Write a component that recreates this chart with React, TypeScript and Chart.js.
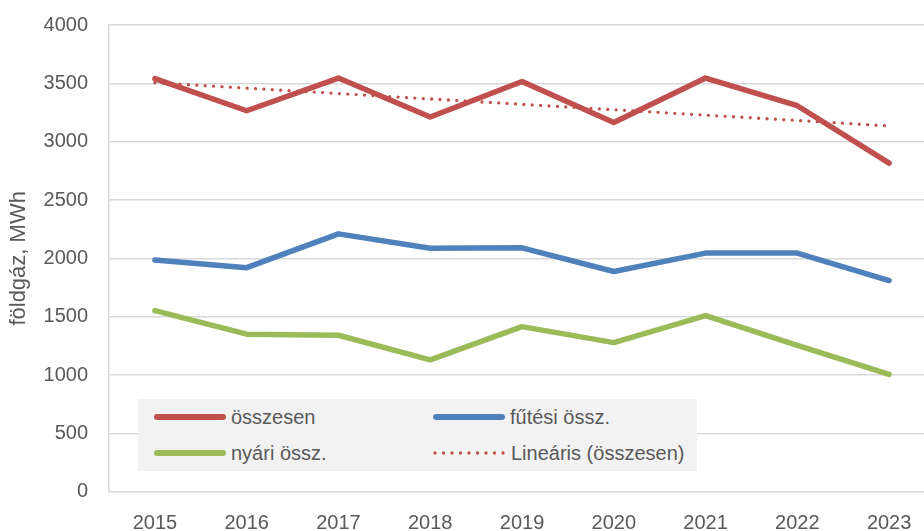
import React, { useEffect, useRef } from "react";
import { Chart, registerables } from "chart.js";

Chart.register(...registerables);

const years = [2015, 2016, 2017, 2018, 2019, 2020, 2021, 2022, 2023];
const osszesen = [3540, 3265, 3545, 3211, 3516, 3165, 3545, 3308, 2816];
const futesi = [1985, 1920, 2210, 2087, 2090, 1887, 2045, 2045, 1810];
const nyari = [1552, 1350, 1341, 1130, 1415, 1278, 1510, 1255, 1005];
const trendYears = [2015, 2023];
const trendValues = [3505, 3135];
const yTickValues = [0, 500, 1000, 1500, 2000, 2500, 3000, 3500, 4000];
const seriesLabels = ["összesen", "fűtési össz.", "nyári össz.", "Lineáris (összesen)"];
const yAxisTitle = "földgáz, MWh";

const RED = "#C0504D";
const BLUE = "#4F81BD";
const GREEN = "#9BBB59";
const TEXT = "#595959";
const GRID = "#D9D9D9";
const FONT = "'Liberation Sans', Arial, sans-serif";

const toPoints = (vals: number[]) => years.map((x, i) => ({ x, y: vals[i] }));

export default function App() {
  const ref = useRef<HTMLCanvasElement>(null);

  useEffect(() => {
    const chart = new Chart(ref.current as HTMLCanvasElement, {
      type: "line",
      data: {
        datasets: [
          {
            label: seriesLabels[3],
            data: trendYears.map((x, i) => ({ x, y: trendValues[i] })),
            borderColor: RED,
            borderWidth: 3.3,
            borderDash: [0, 8.4],
            borderCapStyle: "round",
            pointRadius: 0,
            order: 0,
          },
          {
            label: seriesLabels[0],
            data: toPoints(osszesen),
            borderColor: RED,
            borderWidth: 5.5,
            borderCapStyle: "round",
            borderJoinStyle: "round",
            pointRadius: 0,
            order: 1,
          },
          {
            label: seriesLabels[1],
            data: toPoints(futesi),
            borderColor: BLUE,
            borderWidth: 5.5,
            borderCapStyle: "round",
            borderJoinStyle: "round",
            pointRadius: 0,
            order: 1,
          },
          {
            label: seriesLabels[2],
            data: toPoints(nyari),
            borderColor: GREEN,
            borderWidth: 5.5,
            borderCapStyle: "round",
            borderJoinStyle: "round",
            pointRadius: 0,
            order: 1,
          },
        ],
      },
      options: {
        animation: false,
        responsive: false,
        devicePixelRatio: 1,
        layout: { padding: { top: 25, left: 0, right: 0, bottom: 0 } },
        plugins: { legend: { display: false }, tooltip: { enabled: false } },
        scales: {
          x: {
            type: "linear",
            min: 2014.5,
            max: 2023.38,
            grid: { display: false },
            border: { display: false },
            afterBuildTicks: (s: any) => {
              s.ticks = years.map((v) => ({ value: v }));
            },
            afterFit: (s: any) => {
              s.height = 39.3;
            },
            ticks: {
              autoSkip: false,
              maxRotation: 0,
              padding: 12,
              color: TEXT,
              font: { family: FONT, size: 20 },
              callback: (v: any) => String(v),
            },
          },
          y: {
            min: 0,
            max: 4000,
            afterBuildTicks: (s: any) => {
              s.ticks = yTickValues.map((v) => ({ value: v }));
            },
            afterFit: (s: any) => {
              s.width = 109;
            },
            grid: {
              color: GRID,
              lineWidth: 1.5,
              drawTicks: true,
              tickLength: 21,
              tickColor: "rgba(0,0,0,0)",
            },
            border: { display: true, color: GRID, width: 1.5 },
            ticks: {
              padding: 0,
              color: TEXT,
              font: { family: FONT, size: 20 },
              callback: (v: any) => String(v),
            },
            title: {
              display: true,
              text: yAxisTitle,
              color: TEXT,
              font: { family: FONT, size: 22 },
              padding: { top: 6, bottom: 0 },
            },
          },
        },
      },
    } as any);
    return () => chart.destroy();
  }, []);

  const textStyle: React.CSSProperties = {
    position: "absolute",
    fontFamily: FONT,
    fontSize: 20,
    lineHeight: "24px",
    color: TEXT,
    whiteSpace: "nowrap",
  };
  const lineStyle = (color: string, left: number, top: number): React.CSSProperties => ({
    position: "absolute",
    left,
    top,
    width: 72,
    height: 6,
    borderRadius: 3,
    background: color,
  });

  return (
    <div style={{ position: "fixed", left: 0, top: 0, width: 924, height: 531, background: "#fff" }}>
      <canvas ref={ref} width={924} height={531} style={{ display: "block" }} />
      <div
        style={{
          position: "absolute",
          left: 138,
          top: 399,
          width: 559,
          height: 72,
          background: "#F2F2F2",
        }}
      />
      <div style={lineStyle(RED, 154, 414)} />
      <span style={{ ...textStyle, left: 231, top: 405 }}>{seriesLabels[0]}</span>
      <div style={lineStyle(BLUE, 433, 414)} />
      <span style={{ ...textStyle, left: 510, top: 405 }}>{seriesLabels[1]}</span>
      <div style={lineStyle(GREEN, 154, 450)} />
      <span style={{ ...textStyle, left: 231, top: 441 }}>{seriesLabels[2]}</span>
      <svg style={{ position: "absolute", left: 430, top: 445 }} width={80} height={16}>
        <line
          x1={5}
          y1={8}
          x2={74}
          y2={8}
          stroke={RED}
          strokeWidth={3.3}
          strokeLinecap="round"
          strokeDasharray="0 8.5"
        />
      </svg>
      <span style={{ ...textStyle, left: 511, top: 441 }}>{seriesLabels[3]}</span>
    </div>
  );
}
